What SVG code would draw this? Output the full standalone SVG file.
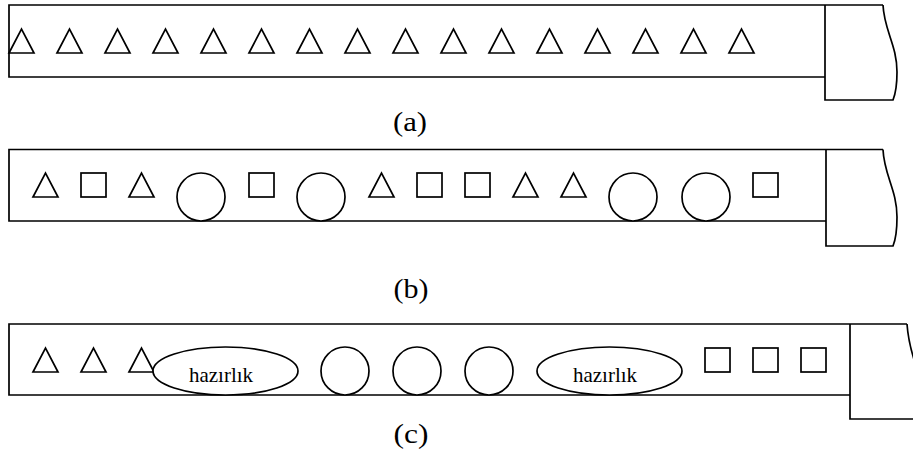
<svg xmlns="http://www.w3.org/2000/svg" xmlns:xlink="http://www.w3.org/1999/xlink" width="913" height="459" viewBox="0 0 913 459">
  <style>
    .ln { fill: none; stroke: #000; stroke-width: 1.7; stroke-linejoin: miter; }
    .sh { fill: #fff; stroke: #000; stroke-width: 1.7; }
    .cap { font-family: "Liberation Serif", "Times New Roman", serif; font-size: 28px; fill: #000; text-anchor: middle; }
    .lbl { font-family: "Liberation Serif", "Times New Roman", serif; font-size: 21px; fill: #000; text-anchor: middle; }
  </style>
  <defs>
    <path id="tri" d="M0,24 L12.5,0 L25,24 Z" class="sh"/>
    <rect id="sq" x="0" y="0" width="25" height="24" class="sh"/>
    <circle id="cir" cx="0" cy="0" r="24" class="sh"/>
  </defs>
  <rect width="913" height="459" fill="#fff"/>

  <!-- Row (a): sixteen triangles -->
  <g id="row-a">
    <path class="ln" d="M825,77 L9,77 L9,5 L883,5"/>
    <path class="ln" d="M825,5 L825,100 L893,100 C895,95 897,85 897,72 C897,45 884,30 883,5"/>
    <g id="row-a-items">
      <use xlink:href="#tri" x="9" y="29"/>
      <use xlink:href="#tri" x="57" y="29"/>
      <use xlink:href="#tri" x="105" y="29"/>
      <use xlink:href="#tri" x="153" y="29"/>
      <use xlink:href="#tri" x="201" y="29"/>
      <use xlink:href="#tri" x="249" y="29"/>
      <use xlink:href="#tri" x="297" y="29"/>
      <use xlink:href="#tri" x="345" y="29"/>
      <use xlink:href="#tri" x="393" y="29"/>
      <use xlink:href="#tri" x="441" y="29"/>
      <use xlink:href="#tri" x="489" y="29"/>
      <use xlink:href="#tri" x="537" y="29"/>
      <use xlink:href="#tri" x="585" y="29"/>
      <use xlink:href="#tri" x="633" y="29"/>
      <use xlink:href="#tri" x="681" y="29"/>
      <use xlink:href="#tri" x="729" y="29"/>
    </g>
    <text class="cap" x="410" y="131" textLength="34" lengthAdjust="spacingAndGlyphs">(a)</text>
  </g>

  <!-- Row (b): mixed triangles, squares and circles -->
  <g id="row-b">
    <path class="ln" d="M826,221 L9,221 L9,149.5 L883,149.5"/>
    <path class="ln" d="M826,149.5 L826,246 L893,246 C895,241 897,230 897,217 C897,190 884,175 883,149.5"/>
    <g id="row-b-items">
      <use xlink:href="#tri" x="33" y="173"/>
      <use xlink:href="#sq" x="81" y="173"/>
      <use xlink:href="#tri" x="129" y="173"/>
      <use xlink:href="#cir" x="201" y="197"/>
      <use xlink:href="#sq" x="249" y="173"/>
      <use xlink:href="#cir" x="321" y="197"/>
      <use xlink:href="#tri" x="369" y="173"/>
      <use xlink:href="#sq" x="417" y="173"/>
      <use xlink:href="#sq" x="465" y="173"/>
      <use xlink:href="#tri" x="513" y="173"/>
      <use xlink:href="#tri" x="561" y="173"/>
      <use xlink:href="#cir" x="633" y="197"/>
      <use xlink:href="#cir" x="706" y="197"/>
      <use xlink:href="#sq" x="753" y="173"/>
    </g>
    <text class="cap" x="411" y="298" textLength="35" lengthAdjust="spacingAndGlyphs">(b)</text>
  </g>

  <!-- Row (c): grouped items with preparation ellipses -->
  <g id="row-c">
    <path class="ln" d="M850,395 L9,395 L9,324 L907,324"/>
    <path class="ln" d="M850,324 L850,419 L916,419 M907,324 C908,338 910,348 916,366"/>
    <g id="row-c-items">
      <use xlink:href="#tri" x="33" y="348"/>
      <use xlink:href="#tri" x="81" y="348"/>
      <use xlink:href="#tri" x="129" y="348"/>
      <g id="prep-1">
        <ellipse class="sh" cx="225.5" cy="371" rx="72.5" ry="24"/>
        <text class="lbl" x="221" y="382" textLength="64" lengthAdjust="spacingAndGlyphs">hazırlık</text>
      </g>
      <use xlink:href="#cir" x="345" y="371"/>
      <use xlink:href="#cir" x="417" y="371"/>
      <use xlink:href="#cir" x="489" y="371"/>
      <g id="prep-2">
        <ellipse class="sh" cx="609.5" cy="371" rx="72.5" ry="24"/>
        <text class="lbl" x="605" y="382" textLength="64" lengthAdjust="spacingAndGlyphs">hazırlık</text>
      </g>
      <use xlink:href="#sq" x="705" y="348"/>
      <use xlink:href="#sq" x="753" y="348"/>
      <use xlink:href="#sq" x="801" y="348"/>
    </g>
    <text class="cap" x="411" y="443" textLength="35" lengthAdjust="spacingAndGlyphs">(c)</text>
  </g>
</svg>
